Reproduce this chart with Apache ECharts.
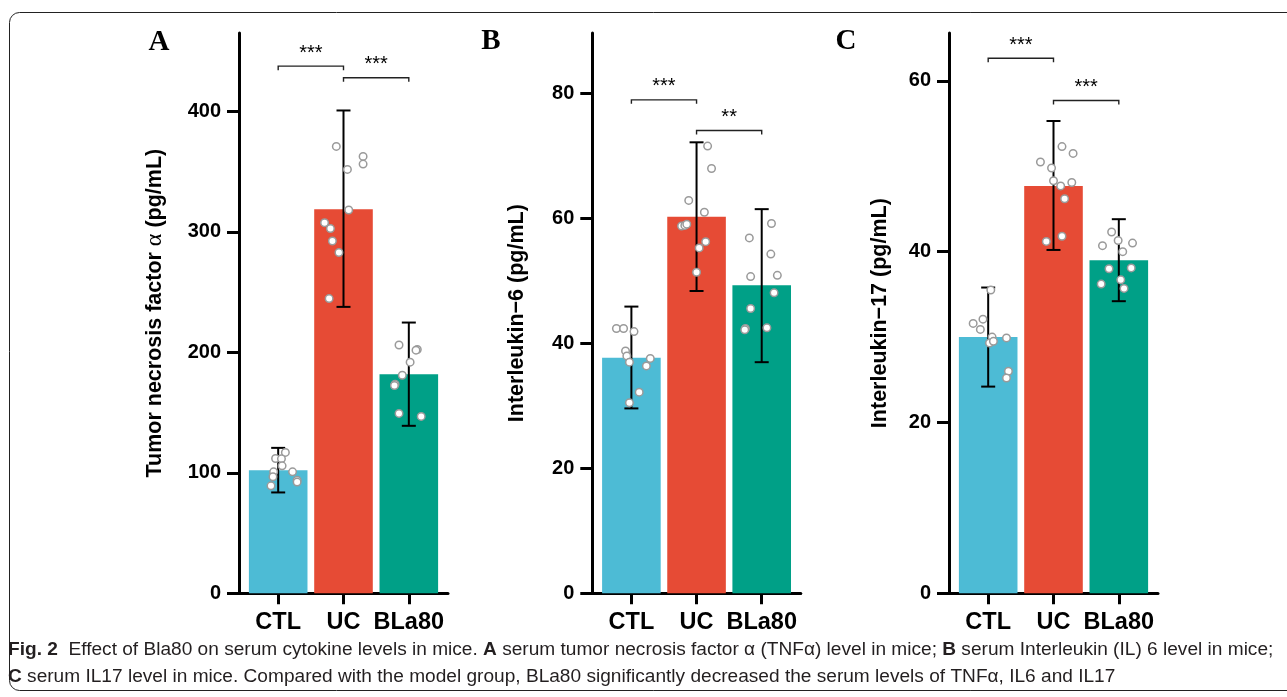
<!DOCTYPE html>
<html>
<head>
<meta charset="utf-8">
<script src="https://cdn.jsdelivr.net/npm/echarts@6/dist/echarts.min.js"></script>
<style>html,body{margin:0;padding:0;background:#fff}#c{width:1287px;height:697px}</style>
</head>
<body>
<div id="c"></div>
<script>
// ---------- data ----------
const categories = ['CTL', 'UC', 'BLa80'];
const barColors = ['#4DBBD5', '#E64B35', '#00A087'];

// Panel A: TNF-alpha (pg/mL)
const tnfMean = [102.2, 318.8, 181.8];
const tnfLow = [83.7, 237.7, 139.0];
const tnfHigh = [120.7, 400.7, 224.7];
const tnfPoints = [
  [116.9, 111.9, 111.6, 105.8, 100.8, 96.7, 100.8, 93.9, 92.3, 89.2],
  [370.9, 362.6, 356.2, 351.8, 318.1, 307.6, 302.7, 292.4, 282.8, 244.6],
  [206.1, 202.3, 201.8, 191.8, 181.0, 173.5, 172.5, 149.3, 146.8]
];
const tnfJitter = [
  [0.11, -0.04, 0.05, 0.06, -0.07, -0.08, 0.22, 0.29, 0.29, -0.11],
  [-0.11, 0.30, 0.30, 0.06, 0.08, -0.29, -0.20, -0.17, -0.07, -0.22],
  [-0.15, 0.13, 0.11, 0.02, -0.10, -0.21, -0.22, -0.15, 0.19]
];
const tnfTicks = [0, 100, 200, 300, 400];
const tnfSig = [[1, 2, 437.5], [2, 3, 427.9]];
const tnfSigText = ['***', '***'];

// Panel B: IL-6 (pg/mL)
const il6Mean = [37.7, 60.3, 49.3];
const il6Low = [29.6, 48.4, 37.0];
const il6High = [45.9, 72.2, 61.5];
const il6Points = [
  [42.4, 42.4, 41.9, 38.8, 38.0, 37.0, 37.6, 36.4, 32.2, 30.5],
  [71.6, 68.0, 62.9, 61.0, 58.8, 58.9, 59.1, 56.3, 55.3, 51.4],
  [59.2, 56.9, 54.3, 50.7, 50.9, 48.1, 45.6, 42.4, 42.2, 42.5]
];
const il6Jitter = [
  [-0.23, -0.12, 0.04, -0.09, -0.07, -0.03, 0.29, 0.23, 0.12, -0.03],
  [0.17, 0.23, -0.12, 0.12, -0.23, -0.18, -0.15, 0.14, 0.04, 0.00],
  [0.15, -0.19, 0.14, -0.17, 0.24, 0.19, -0.17, -0.25, -0.26, 0.08]
];
const il6Ticks = [0, 20, 40, 60, 80];
const il6Sig = [[1, 2, 79.0], [2, 3, 74.1]];
const il6SigText = ['***', '**'];

// Panel C: IL-17 (pg/mL)
const il17Mean = [30.0, 47.7, 39.0];
const il17Low = [24.2, 40.2, 34.2];
const il17High = [35.8, 55.3, 43.8];
const il17Points = [
  [35.5, 32.1, 31.6, 30.9, 30.0, 29.9, 29.3, 29.5, 26.0, 25.2],
  [52.3, 51.5, 50.5, 49.8, 48.3, 47.7, 48.1, 46.2, 41.2, 41.8],
  [42.3, 41.3, 40.7, 41.0, 40.0, 38.0, 38.1, 36.7, 36.2, 35.7]
];
const il17Jitter = [
  [0.04, -0.08, -0.23, -0.12, 0.06, 0.28, 0.02, 0.08, 0.31, 0.28],
  [0.13, 0.30, -0.20, -0.03, 0.00, 0.11, 0.28, 0.17, -0.11, 0.13],
  [-0.11, -0.01, -0.25, 0.21, 0.06, -0.15, 0.19, 0.03, -0.27, 0.08]
];
const il17Ticks = [0, 20, 40, 60];
const il17Sig = [[1, 2, 62.65], [2, 3, 57.7]];
const il17SigText = ['***', '***'];

const panelLetters = ['A', 'B', 'C'];
const yTitles = ['Tumor necrosis factor {a|α} (pg/mL)', 'Interleukin\u22126 (pg/mL)', 'Interleukin\u221217 (pg/mL)'];
const captionLine1 = '{b|Fig. 2}  Effect of Bla80 on serum cytokine levels in mice. {b|A} serum tumor necrosis factor α (TNFα) level in mice; {b|B} serum Interleukin (IL) 6 level in mice;';
const captionLine2 = '{b|C} serum IL17 level in mice. Compared with the model group, BLa80 significantly decreased the serum levels of TNFα, IL6 and IL17';

// ---------- layout ----------
const SANS = '"Liberation Sans", Arial, sans-serif';
const panels = [
  {mean: tnfMean, low: tnfLow, high: tnfHigh, pts: tnfPoints, jit: tnfJitter, ticks: tnfTicks, sig: tnfSig, sigText: tnfSigText, max: 465, left: 239, width: 209, gap: 72},
  {mean: il6Mean, low: il6Low, high: il6High, pts: il6Points, jit: il6Jitter, ticks: il6Ticks, sig: il6Sig, sigText: il6SigText, max: 89.7, left: 592.3, width: 208.5, gap: 64},
  {mean: il17Mean, low: il17Low, high: il17High, pts: il17Points, jit: il17Jitter, ticks: il17Ticks, sig: il17Sig, sigText: il17SigText, max: 65.6, left: 949, width: 209, gap: 58}
];

const grid = [], xAxis = [], yAxis = [], series = [];
panels.forEach((p, k) => {
  grid.push({left: p.left, top: 33, width: p.width, height: 560.3});
  xAxis.push({
    type: 'value', gridIndex: k, min: 0.4, max: 3.6,
    axisLine: {lineStyle: {color: '#000', width: 3}},
    axisTick: {customValues: [1, 2, 3], length: 11, lineStyle: {color: '#000', width: 3}},
    axisLabel: {customValues: [1, 2, 3], formatter: v => categories[Math.round(v) - 1], color: '#000', fontFamily: SANS, fontWeight: 'bold', fontSize: 23.5, margin: 17},
    splitLine: {show: false}
  });
  yAxis.push({
    type: 'value', gridIndex: k, min: 0, max: p.max,
    name: yTitles[k], nameLocation: 'middle', nameGap: p.gap,
    nameTextStyle: {color: '#000', fontFamily: SANS, fontWeight: 'bold', fontSize: 21.5,
      rich: {a: {fontFamily: '"Liberation Serif", serif', fontWeight: 'normal', fontSize: 24, color: '#000'}}},
    axisLine: {lineStyle: {color: '#000', width: 3}},
    axisTick: {customValues: p.ticks, length: 12, lineStyle: {color: '#000', width: 3}},
    axisLabel: {customValues: p.ticks, color: '#000', fontFamily: SANS, fontWeight: 'bold', fontSize: 20, margin: 18},
    splitLine: {show: false}
  });
  series.push({
    type: 'bar', xAxisIndex: k, yAxisIndex: k, barWidth: 58.6, z: 2,
    data: p.mean.map((m, i) => ({value: [i + 1, m], itemStyle: {color: barColors[i]}})),
    silent: true
  });
  series.push({
    type: 'custom', xAxisIndex: k, yAxisIndex: k, z: 3,
    data: p.mean.map((m, i) => [i + 1, p.low[i], p.high[i]]),
    renderItem: (params, api) => {
      const x = api.value(0);
      const lo = api.coord([x, api.value(1)]);
      const hi = api.coord([x, api.value(2)]);
      const st = {stroke: '#000', lineWidth: 2};
      const w = 7;
      return {type: 'group', children: [
        {type: 'line', shape: {x1: hi[0], y1: hi[1], x2: lo[0], y2: lo[1]}, style: st},
        {type: 'line', shape: {x1: hi[0] - w, y1: hi[1], x2: hi[0] + w, y2: hi[1]}, style: st},
        {type: 'line', shape: {x1: lo[0] - w, y1: lo[1], x2: lo[0] + w, y2: lo[1]}, style: st}
      ]};
    }
  });
  const scatterData = [];
  p.pts.forEach((arr, i) => arr.forEach((v, j) => scatterData.push([i + 1 + p.jit[i][j], v])));
  series.push({
    type: 'scatter', xAxisIndex: k, yAxisIndex: k, z: 4, symbolSize: 7.5,
    itemStyle: {color: '#fff', borderColor: '#9a9a9a', borderWidth: 1.5, opacity: 1},
    data: scatterData
  });
  series.push({
    type: 'custom', xAxisIndex: k, yAxisIndex: k, z: 5,
    data: p.sig.map(s => s.slice()),
    renderItem: (params, api) => {
      const y = api.value(2);
      const a = api.coord([api.value(0), y]);
      const b = api.coord([api.value(1), y]);
      return {type: 'group', children: [
        {type: 'polyline', shape: {points: [[a[0], a[1] + 4], [a[0], a[1]], [b[0], b[1]], [b[0], b[1] + 4]]},
          style: {stroke: '#222', lineWidth: 1.4, fill: null}},
        {type: 'text', style: {text: p.sigText[params.dataIndex], x: (a[0] + b[0]) / 2, y: a[1] - 3,
          textAlign: 'center', textVerticalAlign: 'bottom', fill: '#000', font: '20px "Liberation Sans", Arial, sans-serif'}}
      ]};
    }
  });
});

const CAP = '"Liberation Sans", Arial, sans-serif';
const graphic = [
  {type: 'rect', shape: {x: 9.5, y: 12.5, width: 1320, height: 678, r: 10}, style: {fill: null, stroke: '#222', lineWidth: 1}, z: 0, silent: true},
  {type: 'text', x: 159, y: 43, style: {text: panelLetters[0], font: 'bold 29px "Liberation Serif", serif', fill: '#000', textAlign: 'center', textVerticalAlign: 'middle'}},
  {type: 'text', x: 491, y: 42, style: {text: panelLetters[1], font: 'bold 29px "Liberation Serif", serif', fill: '#000', textAlign: 'center', textVerticalAlign: 'middle'}},
  {type: 'text', x: 846, y: 42, style: {text: panelLetters[2], font: 'bold 29px "Liberation Serif", serif', fill: '#000', textAlign: 'center', textVerticalAlign: 'middle'}},
  {type: 'text', x: 8, y: 650, style: {text: captionLine1, fontFamily: CAP, fontSize: 19.1, fill: '#231f20', textVerticalAlign: 'middle',
    rich: {b: {fontWeight: 'bold', fontFamily: CAP, fontSize: 19.1, fill: '#231f20'}}}},
  {type: 'text', x: 8, y: 677, style: {text: captionLine2, fontFamily: CAP, fontSize: 19.1, fill: '#231f20', textVerticalAlign: 'middle',
    rich: {b: {fontWeight: 'bold', fontFamily: CAP, fontSize: 19.1, fill: '#231f20'}}}}
];

const chart = echarts.init(document.getElementById('c'), null, {renderer: 'canvas'});
chart.setOption({animation: false, backgroundColor: '#fff', grid, xAxis, yAxis, series, graphic});
</script>
</body>
</html>
